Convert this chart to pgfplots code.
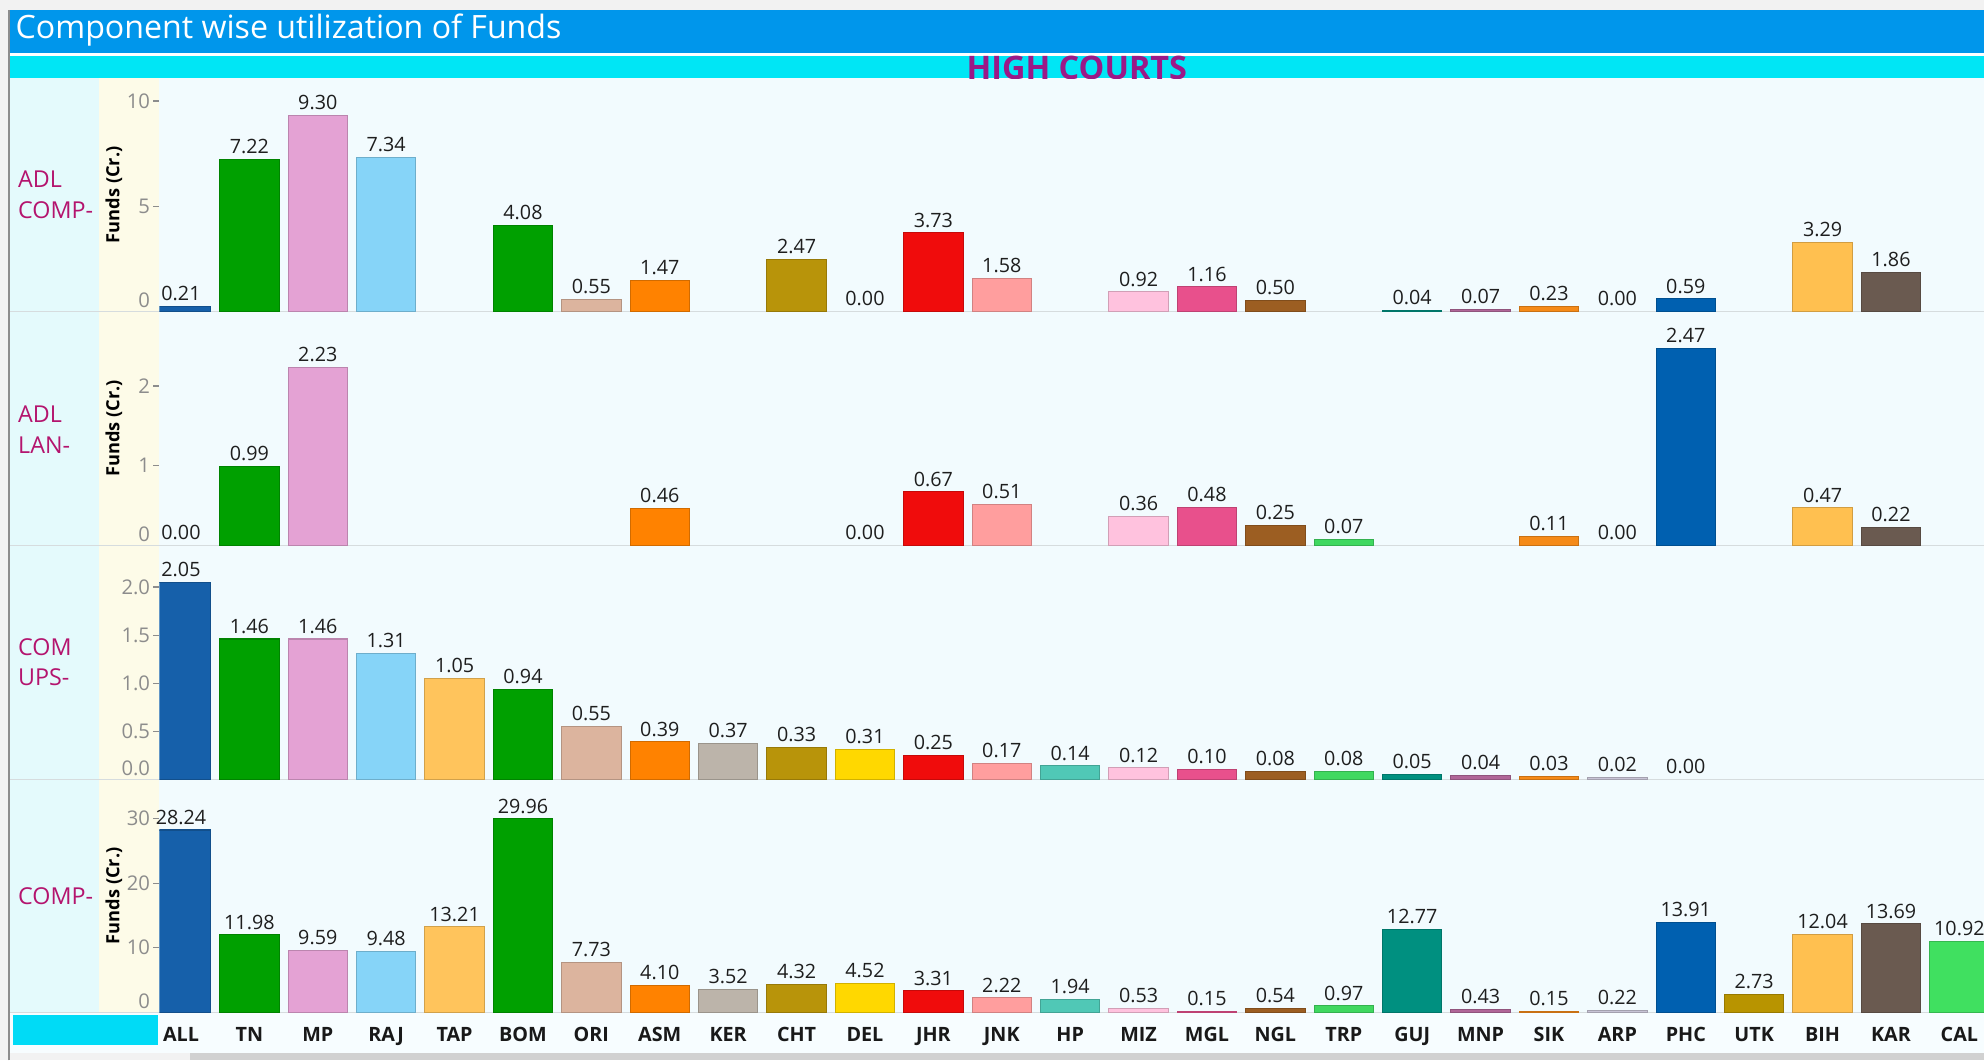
\documentclass[border=0pt]{standalone}
\usepackage{pgfplots}
\pgfplotsset{compat=1.18}
\usepackage{fontspec}
\setmainfont{Open Sans}
\definecolor{cALL}{RGB}{22,96,170}
\definecolor{cTN}{RGB}{0,160,0}
\definecolor{cMP}{RGB}{228,162,212}
\definecolor{cRAJ}{RGB}{134,212,248}
\definecolor{cTAP}{RGB}{255,196,92}
\definecolor{cBOM}{RGB}{0,160,0}
\definecolor{cORI}{RGB}{220,180,158}
\definecolor{cASM}{RGB}{255,130,0}
\definecolor{cKER}{RGB}{188,180,170}
\definecolor{cCHT}{RGB}{184,148,10}
\definecolor{cDEL}{RGB}{255,216,0}
\definecolor{cJHR}{RGB}{240,12,12}
\definecolor{cJNK}{RGB}{255,158,158}
\definecolor{cHP}{RGB}{80,200,182}
\definecolor{cMIZ}{RGB}{255,194,222}
\definecolor{cMGL}{RGB}{232,80,140}
\definecolor{cNGL}{RGB}{156,94,34}
\definecolor{cTRP}{RGB}{64,216,96}
\definecolor{cGUJ}{RGB}{0,144,128}
\definecolor{cMNP}{RGB}{176,102,152}
\definecolor{cSIK}{RGB}{245,138,24}
\definecolor{cARP}{RGB}{200,196,214}
\definecolor{cPHC}{RGB}{0,96,176}
\definecolor{cUTK}{RGB}{184,148,0}
\definecolor{cBIH}{RGB}{255,192,80}
\definecolor{cKAR}{RGB}{106,90,80}
\definecolor{cCAL}{RGB}{64,224,96}
\definecolor{tickgray}{RGB}{140,140,140}
\definecolor{valcol}{RGB}{30,30,30}
\definecolor{rowcol}{RGB}{180,20,110}
\definecolor{hccol}{RGB}{155,25,135}
\definecolor{titlebar}{RGB}{0,150,235}
\definecolor{cyanbar}{RGB}{0,230,245}
\definecolor{leftcol}{RGB}{228,250,252}
\definecolor{strip}{RGB}{253,251,232}
\definecolor{plotbg}{RGB}{242,251,254}
\definecolor{sepline}{RGB}{214,220,222}
\newcommand\valfont{\fontsize{7.8}{8}\selectfont}
\newcommand\tickfont{\fontsize{8}{8}\selectfont}
\newcommand\labfont{\fontsize{7.2}{8}\selectfont\bfseries}
\newcommand\rowfont{\fontsize{9.2}{12}\selectfont}
\newcommand\B[3]{\addplot[fill=#1, draw=#1!82!black, line width=0.4pt] coordinates {(#2,#3)};}
\newcommand\Z[2]{\addplot[fill=none, draw=none] coordinates {(#1,#2)};}
\pgfplotsset{
  panel/.style={
    scale only axis, width=721pt, anchor=south west,
    xmin=-0.315, xmax=26.36, ymin=0,
    axis line style={draw=none},
    xtick=\empty,
    ytick pos=left, tick align=outside, major tick length=2.5pt,
    tick style={draw=tickgray, line width=0.5pt},
    yticklabel style={font=\tickfont, text=tickgray, inner sep=1pt},
    /pgf/number format/assume math mode=true,
    every axis plot/.append style={ybar, bar width=0.87, bar shift=0pt},
    nodes near coords,
    nodes near coords style={font=\valfont, text=valcol, inner sep=2pt,
      /pgf/number format/.cd, fixed, fixed zerofill, precision=2, assume math mode=true},
    extra y ticks={0},
    extra y tick style={tick style={draw=none}, yticklabel style={yshift=4.5pt}},
    ylabel={Funds (Cr.)},
    ylabel style={font=\labfont, at={(axis description cs:-0.025,0.5)}, anchor=center},
    clip=true,
  }
}
\begin{document}
\begin{tikzpicture}[x=0.5pt,y=0.5pt]
% backgrounds
\fill[white!95!black] (0,0) rectangle (1568,838);
\fill[titlebar] (8,796) rectangle (1568,830);
\fill[white] (8,794) rectangle (1568,796);
\fill[cyanbar] (8,776) rectangle (1568,794);
\fill[leftcol] (8,38) rectangle (78,776);
\fill[strip] (78,38) rectangle (126,776);
\fill[plotbg] (126,38) rectangle (1568,776);
\fill[white!97!cyan] (8,6) rectangle (1568,38);
\fill[cyanbar!95!blue] (10,12) rectangle (125,36);
\fill[black!18!white] (150,0) rectangle (1568,6);
\draw[black!45, line width=0.8pt] (7,0) -- (7,830);
\foreach \yy in {592,407,222,38} \draw[sepline, line width=0.5pt] (8,\yy) -- (1568,\yy);
% titles
\node[anchor=west, text=white, font=\fontsize{12.7}{14}\selectfont, inner sep=0pt] at (12,814) {Component wise utilization of Funds};
\begin{scope}
\clip (8,776) rectangle (1568,794);
\node[anchor=base, text=hccol, font=\fontsize{12.8}{14}\selectfont\bfseries, inner sep=0pt] at (851,775) {HIGH COURTS};
\end{scope}
% row labels
\node[anchor=west, align=left, text=rowcol, font=\rowfont, inner sep=0pt] at (14,684) {ADL\\COMP-};
\node[anchor=west, align=left, text=rowcol, font=\rowfont, inner sep=0pt] at (14,498.5) {ADL\\LAN-};
\node[anchor=west, align=left, text=rowcol, font=\rowfont, inner sep=0pt] at (14,314.5) {COM\\UPS-};
\node[anchor=west, align=left, text=rowcol, font=\rowfont, inner sep=0pt] at (14,130) {COMP-};

% Panel 1: ADL COMP
\begin{axis}[panel, at={(63pt,296pt)}, height=92pt, ymax=11.08, ytick={5,10}]
\B{cALL}{0}{0.21}
\B{cTN}{1}{7.22}
\B{cMP}{2}{9.30}
\B{cRAJ}{3}{7.34}
\B{cBOM}{5}{4.08}
\B{cORI}{6}{0.55}
\B{cASM}{7}{1.47}
\B{cCHT}{9}{2.47}
\Z{10}{0.00}
\B{cJHR}{11}{3.73}
\B{cJNK}{12}{1.58}
\B{cMIZ}{14}{0.92}
\B{cMGL}{15}{1.16}
\B{cNGL}{16}{0.50}
\B{cGUJ}{18}{0.04}
\B{cMNP}{19}{0.07}
\B{cSIK}{20}{0.23}
\Z{21}{0.00}
\B{cPHC}{22}{0.59}
\B{cBIH}{24}{3.29}
\B{cKAR}{25}{1.86}
\end{axis}

% Panel 2: ADL LAN
\begin{axis}[panel, at={(63pt,203.5pt)}, height=92.5pt, ymax=2.94, ytick={1,2}]
\Z{0}{0.00}
\B{cTN}{1}{0.99}
\B{cMP}{2}{2.23}
\B{cASM}{7}{0.46}
\Z{10}{0.00}
\B{cJHR}{11}{0.67}
\B{cJNK}{12}{0.51}
\B{cMIZ}{14}{0.36}
\B{cMGL}{15}{0.48}
\B{cNGL}{16}{0.25}
\B{cTRP}{17}{0.07}
\B{cSIK}{20}{0.11}
\Z{21}{0.00}
\B{cPHC}{22}{2.47}
\B{cBIH}{24}{0.47}
\B{cKAR}{25}{0.22}
\end{axis}

% Panel 3: COM UPS
\begin{axis}[panel, at={(63pt,111pt)}, height=92.5pt, ymax=2.434,
  ytick={0.5,1.0,1.5,2.0}, ylabel={},
  yticklabel style={/pgf/number format/fixed, /pgf/number format/fixed zerofill, /pgf/number format/precision=1}]
\B{cALL}{0}{2.05}
\B{cTN}{1}{1.46}
\B{cMP}{2}{1.46}
\B{cRAJ}{3}{1.31}
\B{cTAP}{4}{1.05}
\B{cBOM}{5}{0.94}
\B{cORI}{6}{0.55}
\B{cASM}{7}{0.39}
\B{cKER}{8}{0.37}
\B{cCHT}{9}{0.33}
\B{cDEL}{10}{0.31}
\B{cJHR}{11}{0.25}
\B{cJNK}{12}{0.17}
\B{cHP}{13}{0.14}
\B{cMIZ}{14}{0.12}
\B{cMGL}{15}{0.10}
\B{cNGL}{16}{0.08}
\B{cTRP}{17}{0.08}
\B{cGUJ}{18}{0.05}
\B{cMNP}{19}{0.04}
\B{cSIK}{20}{0.03}
\B{cARP}{21}{0.02}
\Z{22}{0.00}
\end{axis}

% Panel 4: COMP
\begin{axis}[panel, at={(63pt,19pt)}, height=92pt, ymax=36.08, ytick={10,20,30},
  xtick={0,...,26},
  xticklabels={ALL,TN,MP,RAJ,TAP,BOM,ORI,ASM,KER,CHT,DEL,JHR,JNK,HP,MIZ,MGL,NGL,TRP,GUJ,MNP,SIK,ARP,PHC,UTK,BIH,KAR,CAL},
  xtick style={draw=none},
  xticklabel style={font=\fontsize{7.8}{9}\selectfont\bfseries, text=black!90, yshift=0pt}]
\B{cALL}{0}{28.24}
\B{cTN}{1}{11.98}
\B{cMP}{2}{9.59}
\B{cRAJ}{3}{9.48}
\B{cTAP}{4}{13.21}
\B{cBOM}{5}{29.96}
\B{cORI}{6}{7.73}
\B{cASM}{7}{4.10}
\B{cKER}{8}{3.52}
\B{cCHT}{9}{4.32}
\B{cDEL}{10}{4.52}
\B{cJHR}{11}{3.31}
\B{cJNK}{12}{2.22}
\B{cHP}{13}{1.94}
\B{cMIZ}{14}{0.53}
\B{cMGL}{15}{0.15}
\B{cNGL}{16}{0.54}
\B{cTRP}{17}{0.97}
\B{cGUJ}{18}{12.77}
\B{cMNP}{19}{0.43}
\B{cSIK}{20}{0.15}
\B{cARP}{21}{0.22}
\B{cPHC}{22}{13.91}
\B{cUTK}{23}{2.73}
\B{cBIH}{24}{12.04}
\B{cKAR}{25}{13.69}
\B{cCAL}{26}{10.92}
\end{axis}
\pgfresetboundingbox
\useasboundingbox (0,0) rectangle (1568,838);
\end{tikzpicture}
\end{document}
